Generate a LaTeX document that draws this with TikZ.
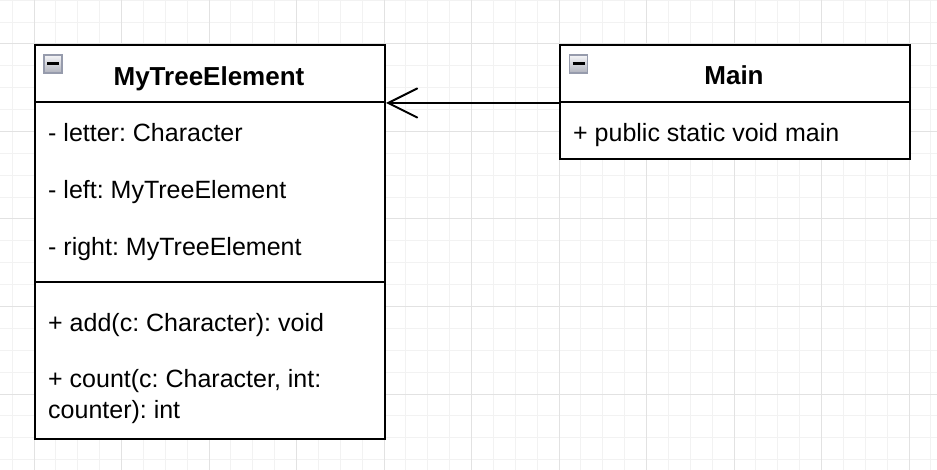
\documentclass[tikz,border=0pt]{standalone}
\usepackage{fontspec}
\setmainfont{Liberation Sans}
\usetikzlibrary{arrows.meta}
\definecolor{gridminor}{RGB}{242,242,242}
\definecolor{gridmajor}{RGB}{226,226,226}
\definecolor{iconedge}{RGB}{150,155,172}
\definecolor{icontop}{RGB}{245,245,248}
\definecolor{iconbottom}{RGB}{175,178,188}
\frenchspacing

\begin{document}
\begin{tikzpicture}[x=1pt,y=-1pt,
	classbox/.style={draw=black,line width=2pt,fill=white,anchor=north west,minimum width=350pt,inner sep=0pt},
	member/.style={anchor=base west,inner sep=0pt,font=\fontsize{25}{30.3}\selectfont},
	classname/.style={anchor=base,inner sep=0pt,font=\fontsize{26}{30}\selectfont\bfseries},
	minusicon/.style={draw=iconedge,line width=1.5pt,top color=icontop,bottom color=iconbottom,minimum size=18pt,inner sep=0pt,
		path picture={\draw[black,line width=2.2pt] ([xshift=-6pt,yshift=0.5pt]path picture bounding box.center) -- ([xshift=6pt,yshift=0.5pt]path picture bounding box.center);}}]
			\clip (0,0) rectangle (937,470);
			\fill[white] (0,0) rectangle (937,470);
			% grid
			\foreach \k in {-1,...,41}
				\draw[gridminor,line width=1pt] ({34+21.875*\k},0) -- ({34+21.875*\k},470);
			\foreach \k in {-2,...,19}
				\draw[gridminor,line width=1pt] (0,{44+21.875*\k}) -- (937,{44+21.875*\k});
			\foreach \k in {0,...,10}
				\draw[gridmajor,line width=1pt] ({34+87.5*\k},0) -- ({34+87.5*\k},470);
			\foreach \k in {0,...,4}
				\draw[gridmajor,line width=1pt] (0,{44+87.5*\k}) -- (937,{44+87.5*\k});
			% MyTreeElement
			\node[classbox,minimum height=57pt] (treehead) at (34,44) {};
			\node[classbox,minimum height=180pt] (treeattr) at (34,101) {};
			\node[classbox,minimum height=157pt] (treeops) at (34,281) {};
			\node[minusicon] (treeicon) at (53,64) {};
			\node[classname] (treename) at (209,86) {MyTreeElement};
			\node[member] (letter) at (48,142) {- letter: Character};
			\node[member] (left) at (48,199) {- left: MyTreeElement};
			\node[member] (right) at (48,256) {- right: MyTreeElement};
			\node[member] (add) at (48,331) {+ add(c: Character): void};
			\node[member,align=left] (count) at (48,418) {+ count(c: Character, int:\\counter): int};
			% Main
			\node[classbox,minimum height=57pt] (mainhead) at (559,44) {};
			\node[classbox,minimum height=57pt] (mainops) at (559,101) {};
			\node[minusicon] (mainicon) at (578.5,64) {};
			\node[classname] (mainname) at (734,85) {Main};
			\node[member] (mainfn) at (573,142) {+ public static void main};
			% association
			\draw[line width=2pt,-{Straight Barb[length=29pt,width=29pt,line cap=round]}] (mainhead.south west) -- (treehead.south east);
		\end{tikzpicture}
\end{document}
